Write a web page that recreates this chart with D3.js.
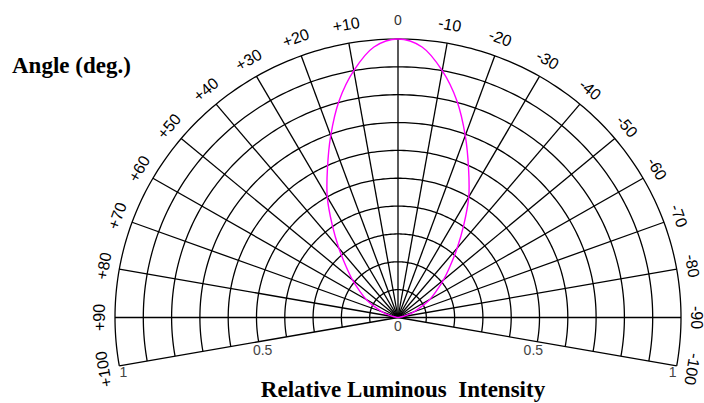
<!DOCTYPE html>
<html><head><meta charset="utf-8">
<script src="https://cdn.jsdelivr.net/npm/d3@7"></script>
<style>html,body{margin:0;padding:0;background:#fff;}svg{display:block;}</style>
</head><body>
<script>
// ---- data ----
const angleTicks = [100, 90, 80, 70, 60, 50, 40, 30, 20, 10, 0, -10, -20, -30, -40, -50, -60, -70, -80, -90, -100];
const angleTickLabels = ["+100", "+90", "+80", "+70", "+60", "+50", "+40", "+30", "+20", "+10", "0", "-10", "-20", "-30", "-40", "-50", "-60", "-70", "-80", "-90", "-100"];
const radialRings = [0.1, 0.2, 0.3, 0.4, 0.5, 0.6, 0.7, 0.8, 0.9, 1.0];
const radialLabelValues = [0, 0.5, 1, 0.5, 1];
const radialLabelTexts = ["0", "0.5", "1", "0.5", "1"];
const radialLabelSides = [100, 100, 100, -100, -100];
const curveAngles = [-90, -85, -80, -75, -70, -65, -60, -55, -50, -45, -40, -35, -30, -25, -20, -15, -10, -5, 0, 5, 10, 15, 20, 25, 30, 35, 40, 45, 50, 55, 60, 65, 70, 75, 80, 85, 90];
const curveValues = [0, 0.004, 0.015, 0.035, 0.06, 0.09, 0.13, 0.165, 0.21, 0.26, 0.325, 0.405, 0.50, 0.59, 0.695, 0.805, 0.90, 0.975, 1.00, 0.975, 0.90, 0.805, 0.695, 0.59, 0.50, 0.405, 0.325, 0.26, 0.21, 0.165, 0.13, 0.09, 0.06, 0.035, 0.015, 0.004, 0];

// ---- layout ----
const W = 704, H = 403;
const cx = 398, cy = 317.5;
const rx = d3.scaleLinear().domain([0, 1]).range([0, 283]);
const ry = d3.scaleLinear().domain([0, 1]).range([0, 278.5]);
const aScale = d3.scaleLinear().domain([-180, 180]).range([-Math.PI, Math.PI]);
function pt(r, deg, kx = 1, ky = 1) {
  const a = aScale(deg);
  return [cx - rx(r) * kx * Math.sin(a), cy - ry(r) * ky * Math.cos(a)];
}

const svg = d3.select("body").append("svg").attr("width", W).attr("height", H);
const line = d3.line();

// rings
const arcAngles = d3.range(-100, 100.01, 1);
svg.append("g").selectAll("path").data(radialRings).join("path")
  .attr("d", r => line(arcAngles.map(a => pt(r, a))))
  .attr("fill", "none").attr("stroke", "#000").attr("stroke-width", 1.3);

// spokes
svg.append("g").selectAll("path").data(angleTicks).join("path")
  .attr("d", a => line([pt(0, a), pt(1, a)]))
  .attr("fill", "none").attr("stroke", "#000").attr("stroke-width", 1.3);

// angle labels
svg.append("g").selectAll("text").data(angleTicks).join("text")
  .attr("transform", a => { const p = pt(1, a, 1.056, 1.068); return `translate(${p[0]},${p[1]}) rotate(${-a})`; })
  .attr("text-anchor", "middle").attr("dominant-baseline", "central")
  .attr("font-family", "Liberation Sans, Arial, sans-serif")
  .attr("font-size", a => a === 0 ? 14 : 16)
  .attr("fill", (a) => a === 0 ? "#333" : "#000")
  .text((a, i) => angleTickLabels[i]);

// radial labels
svg.append("g").selectAll("text").data(radialLabelValues).join("text")
  .attr("x", (v, i) => pt(v, radialLabelSides[i])[0] + (radialLabelSides[i] > 0 ? 4 : -4) * (v > 0 ? 1 : 0))
  .attr("y", (v, i) => pt(v, radialLabelSides[i])[1] + (v === 1 ? 6 : 8))
  .attr("text-anchor", "middle").attr("dominant-baseline", "central")
  .attr("font-family", "Liberation Sans, Arial, sans-serif").attr("font-size", 14)
  .attr("fill", "#444")
  .text((v, i) => radialLabelTexts[i]);

// intensity curve
const curveLine = d3.line().curve(d3.curveCatmullRom.alpha(0.5));
svg.append("path")
  .attr("d", curveLine(curveAngles.map((a, i) => pt(curveValues[i], a))))
  .attr("fill", "none").attr("stroke", "#ff00ff").attr("stroke-width", 1.4);

// titles
svg.append("text").attr("x", 12).attr("y", 73)
  .attr("font-family", "Liberation Serif, Times New Roman, serif").attr("font-weight", "bold").attr("font-size", 23)
  .text("Angle (deg.)");
svg.append("text").attr("x", 403).attr("y", 397).attr("text-anchor", "middle")
  .attr("font-family", "Liberation Serif, Times New Roman, serif").attr("font-weight", "bold").attr("font-size", 23)
  .style("white-space", "pre")
  .text("Relative Luminous  Intensity");
</script>
</body></html>
